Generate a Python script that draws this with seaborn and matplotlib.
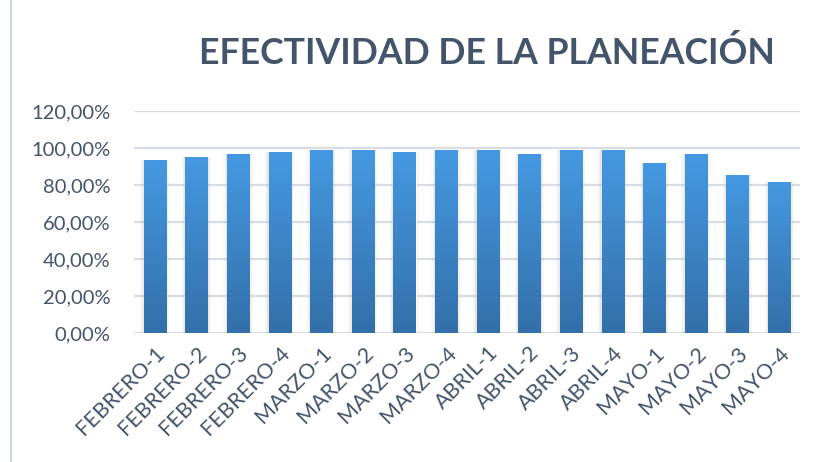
import numpy as np
import pandas as pd
import seaborn as sns
import matplotlib
matplotlib.use('Agg')
import matplotlib.pyplot as plt
from matplotlib.colors import LinearSegmentedColormap
from matplotlib.ticker import FuncFormatter

# data
semanas = ['FEBRERO-1', 'FEBRERO-2', 'FEBRERO-3', 'FEBRERO-4',
           'MARZO-1', 'MARZO-2', 'MARZO-3', 'MARZO-4',
           'ABRIL-1', 'ABRIL-2', 'ABRIL-3', 'ABRIL-4',
           'MAYO-1', 'MAYO-2', 'MAYO-3', 'MAYO-4']
efectividad = [0.936, 0.951, 0.968, 0.978,
               0.990, 0.990, 0.978, 0.990,
               0.990, 0.968, 0.990, 0.990,
               0.920, 0.968, 0.855, 0.816]
y_ticks = [0, 0.2, 0.4, 0.6, 0.8, 1.0, 1.2]

text_color = '#44546A'
df = pd.DataFrame({'semana': semanas, 'efectividad': efectividad})

sns.set_theme(style='white')
plt.rcParams['font.family'] = ['Lato', 'DejaVu Sans']

fig = plt.figure(figsize=(8.17, 4.62), dpi=100)
ax = fig.add_axes([0.164, 0.279, 0.815, 0.481])

sns.barplot(data=df, x='semana', y='efectividad', color='#3F86CC',
            width=0.53, ax=ax, zorder=3)

# gradient fill + soft shadow on every bar
grad = LinearSegmentedColormap.from_list('g', ['#3370AA', '#4599E2'])
for p in ax.patches:
    x0, w, h = p.get_x(), p.get_width(), p.get_height()
    for k, a in enumerate([0.10, 0.07, 0.04]):
        d = 0.03 * (k + 1)
        ax.add_patch(plt.Rectangle((x0 - d, -0.004), w + 2 * d, h + 0.004,
                                   color='#808080', alpha=a, lw=0, zorder=2))
    im = ax.imshow(np.linspace(0, 1, 100).reshape(-1, 1), cmap=grad,
                   extent=[x0, x0 + w, 0, h], origin='lower',
                   aspect='auto', zorder=4)
    im.set_clip_path(p)

ax.set_xlim(-0.5, len(semanas) - 0.5)
ax.set_ylim(0, 1.2)
ax.set_yticks(y_ticks)
ax.yaxis.set_major_formatter(FuncFormatter(lambda v, _: f'{v * 100:.2f}%'.replace('.', ',')))
ax.grid(axis='y', color='#D9DDE3', lw=1.6, zorder=0)
for s in ax.spines.values():
    s.set_visible(False)
ax.set_xlabel('')
ax.set_ylabel('')
ax.tick_params(axis='y', labelsize=14.5, colors=text_color, pad=17, length=0)
ax.tick_params(axis='x', labelsize=15.5, colors=text_color, length=0, pad=7)
plt.setp(ax.get_xticklabels(), rotation=45, ha='right', rotation_mode='anchor')

fig.text(0.596, 0.885, 'EFECTIVIDAD DE LA PLANEACIÓN', ha='center', va='center',
         fontsize=25.7, fontweight='bold', color=text_color)

# frame line on the left like the screenshot
fig.add_artist(plt.Line2D([0.013, 0.013], [0, 1], color='#D0D5DC', lw=1.5))

fig.savefig('out.png', dpi=100)
